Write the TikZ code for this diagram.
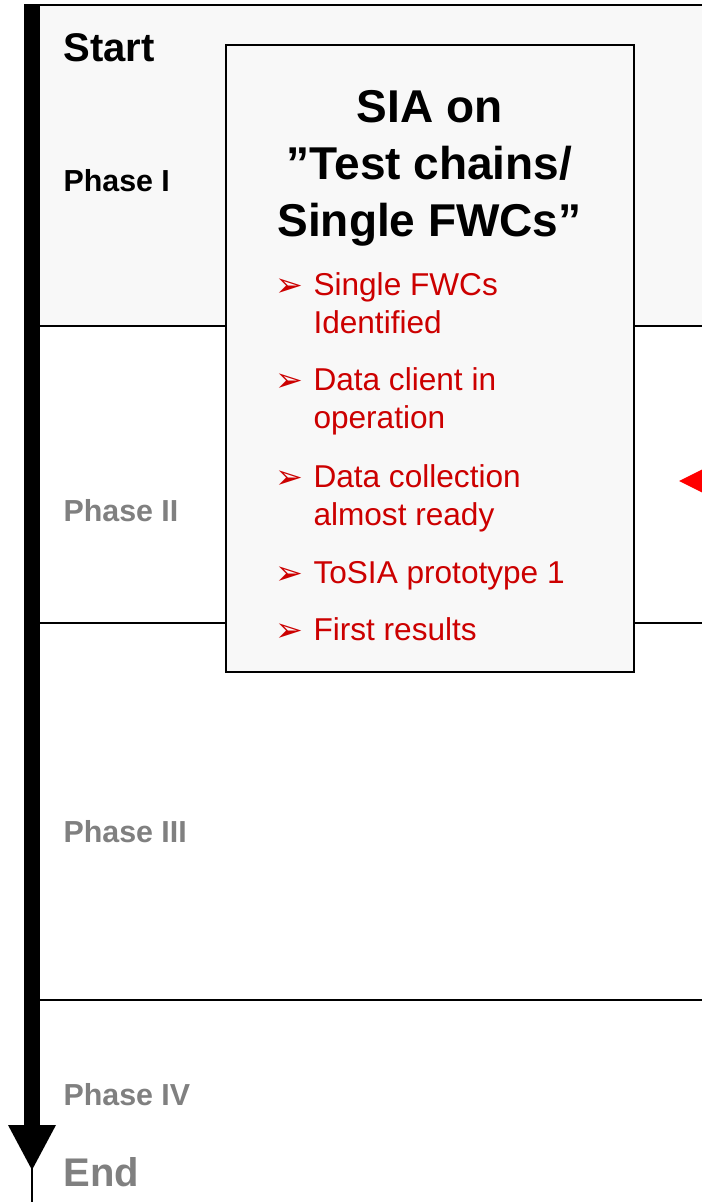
\documentclass[tikz,border=0pt]{standalone}
\usepackage{fontspec}
\setmainfont{Liberation Sans}
\newfontfamily\dingfont{DejaVu Sans}
\usetikzlibrary{shadows}
\definecolor{bandgray}{RGB}{248,248,248}
\definecolor{phasegray}{RGB}{128,128,128}
\definecolor{itemred}{RGB}{204,0,0}
\tikzset{every picture/.style={line width=0.75pt},
  phaselabel/.style={anchor=base west, inner sep=0pt, font=\fontsize{22.8}{27}\selectfont\bfseries},
  endlabel/.style={anchor=base west, inner sep=0pt, font=\fontsize{30}{36}\selectfont\bfseries},
  itemtext/.style={anchor=base west, inner sep=0pt, text=itemred, font=\fontsize{23.7}{28.5}\selectfont},
  itemmark/.style={anchor=base west, inner sep=0pt, text=itemred, font=\dingfont\fontsize{25}{30}\selectfont},
  siabox/.style={draw, line width=1.5pt, fill=bandgray, minimum width=306pt, minimum height=470.25pt,
    drop shadow={shadow xshift=0.9pt, shadow yshift=-0.9pt, fill=gray!70, opacity=1}}}

\begin{document}
\begin{tikzpicture}[x=0.75pt,y=0.75pt,yscale=-1,xscale=1]
\useasboundingbox (0,0) rectangle (702,1202);

% Phase I band
\fill [bandgray] (40,5) rectangle (702,326);
\draw [line width=1.5pt] (24,5) -- (702,5);
% Phase borders
\draw [line width=1.5pt] (40,326) -- (702,326);
\draw [line width=1.5pt] (40,623) -- (702,623);
\draw [line width=1.5pt] (40,1000) -- (702,1000);

% Time axis
\fill [black] (24,5) rectangle (40,1125);
\fill [black] (8,1125) -- (56,1125) -- (32,1170) -- cycle;
\draw [line width=1.5pt] (32,1168) -- (32,1202);

% Labels
\node [endlabel] (start) at (63,62) {Start};
\node [phaselabel] (ph1) at (63,191) {Phase I};
\node [phaselabel, text=phasegray] (ph2) at (63,521) {Phase II};
\node [phaselabel, text=phasegray] (ph3) at (63,842) {Phase III};
\node [phaselabel, text=phasegray] (ph4) at (63,1105) {Phase IV};
\node [endlabel, text=phasegray] (end) at (63,1186) {End};

% SIA box
\node [siabox] (sia) at (429.5,358.5) {};
\node [anchor=base, inner sep=0pt, align=center, font=\fontsize{34.5}{42.75}\selectfont\bfseries] (title) at (429.5,236) {SIA on\\”Test chains/\\Single FWCs”};

% Items
\foreach \ypos/\txt [count=\i] in {295/Single FWCs, 333/Identified, 390/Data client in, 428/operation, 487/Data collection, 525/almost ready, 583/ToSIA prototype 1, 640/First results}
  \node [itemtext] (line\i) at (313,\ypos) {\txt};
\foreach \ypos [count=\i] in {295,390,487,583,640}
  \node [itemmark] (mark\i) at (275,\ypos+1) {➢};

% Pointer
\fill [red] (679,481) -- (702,469.5) -- (702,492.5) -- cycle;

\end{tikzpicture}
\end{document}
